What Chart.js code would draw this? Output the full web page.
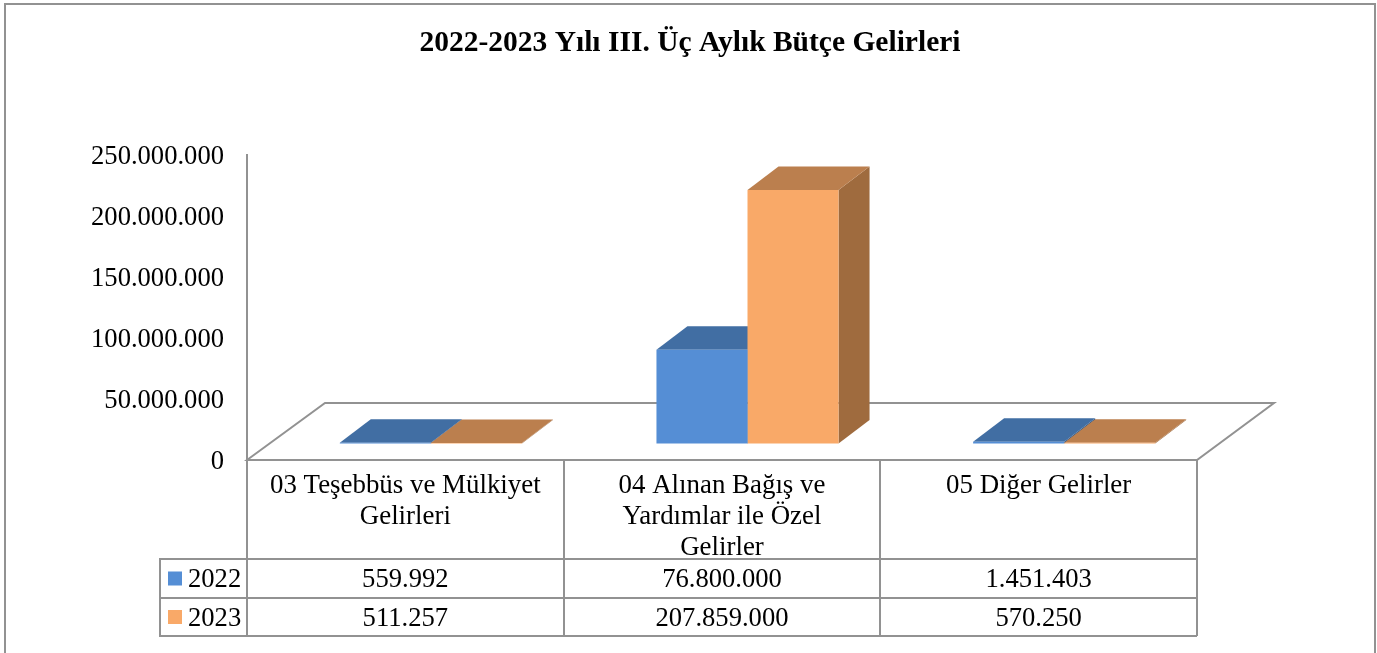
<!DOCTYPE html>
<html><head><meta charset="utf-8">
<script src="https://cdn.jsdelivr.net/npm/chart.js@4"></script>
<style>html,body{margin:0;padding:0;background:#fff;overflow:hidden}canvas{display:block}</style>
</head><body><canvas id="c" width="1377" height="653"></canvas>
<script>
const titleText = '2022-2023 Yılı III. Üç Aylık Bütçe Gelirleri';
const categories = [['03 Teşebbüs ve Mülkiyet','Gelirleri'],['04 Alınan Bağış ve','Yardımlar ile Özel','Gelirler'],['05 Diğer Gelirler']];
const series2022 = [559992, 76800000, 1451403];
const series2023 = [511257, 207859000, 570250];
const seriesNames = ['2022','2023'];
const FONT = '"Liberation Serif","Times New Roman",serif';
const GREY = '#929292';
const frontColors = ['#558ed5','#f9a968'];
const topColors = ['#416ea3','#bb7f4e'];
const sideColors = ['#355a86','#9f6b3e'];
const fmt = v => v.toLocaleString('tr-TR');
const SHIFT = {x:25.5,y:-16.5}, DEPTH = {x:31,y:-23.5}, FLOOR = {x:78,y:-57};
function poly(ctx,pts,fill,stroke){
  ctx.beginPath();pts.forEach((p,i)=>i?ctx.lineTo(p[0],p[1]):ctx.moveTo(p[0],p[1]));ctx.closePath();
  if(fill){ctx.fillStyle=fill;ctx.fill();}
  if(stroke){ctx.strokeStyle=stroke;ctx.lineWidth=2;ctx.stroke();}
}
const box3d = {
  id:'box3d',
  beforeDraw(chart){
    const {ctx,height}=chart;
    ctx.save();ctx.strokeStyle=GREY;ctx.lineWidth=2;ctx.beginPath();
    ctx.moveTo(5,height);ctx.lineTo(5,4);ctx.lineTo(1375,4);ctx.lineTo(1375,height);ctx.stroke();ctx.restore();
  },
  beforeDatasetsDraw(chart){
    const {ctx,chartArea:a}=chart;
    ctx.save();
    poly(ctx,[[a.left,a.bottom],[a.left+FLOOR.x,a.bottom+FLOOR.y],[a.right+FLOOR.x-1,a.bottom+FLOOR.y],[a.right,a.bottom]],'#fff',GREY);
    chart.data.datasets.forEach((ds,i)=>{
      chart.getDatasetMeta(i).data.forEach(b=>{
        const p=b.getProps(['x','y','base','width'],true);
        const l=p.x-p.width/2+SHIFT.x,r=p.x+p.width/2+SHIFT.x,t=p.y+SHIFT.y,bt=p.base+SHIFT.y;
        poly(ctx,[[r,t],[r+DEPTH.x,t+DEPTH.y],[r+DEPTH.x,bt+DEPTH.y],[r,bt]],sideColors[i]);
        poly(ctx,[[l,t],[l+DEPTH.x,t+DEPTH.y],[r+DEPTH.x,t+DEPTH.y],[r,t]],topColors[i]);
      });
    });
    ctx.restore();
    ctx.save();ctx.translate(SHIFT.x,SHIFT.y);
  },
  afterDatasetsDraw(chart){chart.ctx.restore();},
  afterDraw(chart){
    const {ctx,chartArea:a,scales:{x}}=chart;
    const rows=[559,598,636], legendLeft=160;
    const edges=[a.left];
    chart.data.labels.forEach((_,i)=>edges.push(a.left+(a.right-a.left)*(i+1)/chart.data.labels.length));
    ctx.save();ctx.strokeStyle=GREY;ctx.lineWidth=2;ctx.beginPath();
    edges.forEach(e=>{const r=Math.round(e);ctx.moveTo(r,a.bottom);ctx.lineTo(r,rows[2]);});
    rows.forEach(y=>{ctx.moveTo(legendLeft,y);ctx.lineTo(a.right,y);});
    ctx.moveTo(legendLeft,rows[0]-1);ctx.lineTo(legendLeft,rows[2]+1);
    ctx.stroke();
    ctx.font='26.6px '+FONT;ctx.fillStyle='#000';ctx.textBaseline='middle';
    chart.data.datasets.forEach((ds,i)=>{
      const y=(rows[i]+rows[i+1])/2;
      ctx.fillStyle=frontColors[i];ctx.fillRect(168,y-7,14,14);
      ctx.fillStyle='#000';ctx.textAlign='left';ctx.fillText(ds.label,188,y+2);
      ctx.textAlign='center';
      ds.data.forEach((v,j)=>ctx.fillText(fmt(v),x.getPixelForValue(j),y+2));
    });
    ctx.restore();
  }
};
new Chart(document.getElementById('c'),{
  type:'bar',
  data:{labels:categories,datasets:[
    {label:seriesNames[0],data:series2022,backgroundColor:frontColors[0],clip:false},
    {label:seriesNames[1],data:series2023,backgroundColor:frontColors[1],clip:false}
  ]},
  plugins:[box3d],
  options:{
    responsive:false,animation:false,
    layout:{padding:{left:3,right:0,top:0,bottom:0},autoPadding:false},
    datasets:{bar:{barPercentage:1,categoryPercentage:0.575,borderWidth:0}},
    plugins:{
      legend:{display:false},tooltip:{enabled:false},
      title:{display:true,text:titleText,color:'#000',font:{family:FONT,size:29.5,weight:'bold',lineHeight:1.2},padding:{top:26,bottom:93.6}}
    },
    scales:{
      x:{
        grid:{display:false,drawTicks:false},
        border:{color:GREY,width:2},
        afterFit(s){s.height=193;},
        ticks:{color:'#000',font:{family:FONT,size:26.9,lineHeight:1.155},padding:10,maxRotation:0,autoSkip:false}
      },
      y:{
        min:0,max:250000000,
        grid:{display:false,drawTicks:false},
        border:{color:GREY,width:2},
        afterFit(s){s.width=244;},
        ticks:{color:'#000',stepSize:50000000,font:{family:FONT,size:26.6},padding:23,labelOffset:2.5,callback:v=>fmt(v)}
      },
      spacer:{
        position:'right',
        grid:{display:false,drawTicks:false},
        border:{display:false},
        ticks:{display:false},
        afterFit(s){s.width=180;}
      }
    }
  }
});
</script></body></html>
